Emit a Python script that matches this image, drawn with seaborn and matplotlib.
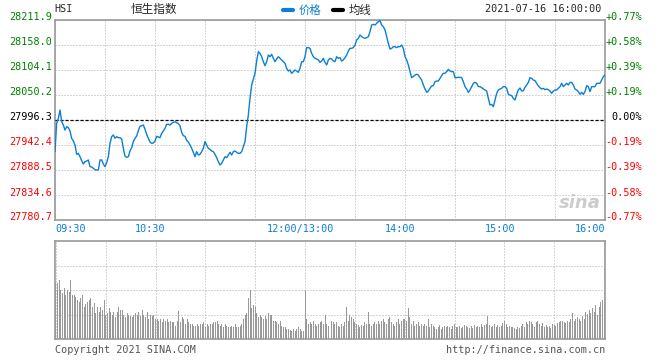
import numpy as np
import pandas as pd
import matplotlib
import matplotlib.pyplot as plt
import matplotlib.transforms as mtransforms
from matplotlib.lines import Line2D
import seaborn as sns

matplotlib.use('Agg')

# HSI intraday 2021-07-16, one value per minute (09:30-12:00 then 13:00-16:00)
prev_close = 27996.3
price = [
    27928.0, 27989.1, 27999.9, 28017.9, 27992.7, 27985.5, 27974.7, 27981.9, 27979.8, 27972.6,
    27956.8, 27951.0, 27942.4, 27922.3, 27924.4, 27917.2, 27908.6, 27901.4, 27906.5, 27907.9,
    27910.1, 27895.7, 27895.0, 27892.1, 27889.2, 27888.5, 27888.5, 27910.1, 27910.1, 27901.4,
    27895.7, 27904.3, 27917.2, 27946.0, 27960.4, 27964.0, 27956.8, 27960.4, 27958.2, 27958.2,
    27955.3, 27935.2, 27918.7, 27915.8, 27917.2, 27929.5, 27936.7, 27949.6, 27956.8, 27961.8,
    27973.3, 27982.6, 27984.1, 27985.5, 27976.2, 27965.4, 27956.8, 27948.9, 27946.0, 27946.7,
    27951.0, 27961.1, 27959.6, 27958.2, 27967.6, 27972.6, 27978.3, 27987.0, 27987.0, 27985.5,
    27989.1, 27991.3, 27992.7, 27990.6, 27988.4, 27984.1, 27969.7, 27962.5, 27961.1, 27952.5,
    27948.9, 27942.4, 27935.2, 27926.6, 27917.2, 27928.0, 27920.8, 27922.3, 27928.0, 27935.2,
    27949.6, 27942.4, 27935.2, 27933.1, 27929.5, 27928.0, 27922.3, 27915.1, 27906.5, 27899.3,
    27902.9, 27910.1, 27917.2, 27915.1, 27920.8, 27926.6, 27920.8, 27928.0, 27929.5, 27926.6,
    27924.4, 27924.4, 27928.0, 27938.8, 27949.6, 27981.9, 28007.1, 28043.0, 28071.8, 28084.7,
    28096.9, 28123.5, 28143.6, 28140.0, 28132.8, 28122.1, 28113.4, 28122.1, 28136.4, 28132.8,
    28137.9, 28129.3, 28122.1, 28127.8, 28132.8, 28129.3, 28125.7, 28122.1, 28118.5, 28107.7,
    28101.9, 28104.1, 28096.9, 28100.5, 28104.1, 28101.9, 28099.1, 28107.7, 28122.1, 28122.1,
    28132.8, 28152.3, 28152.3, 28150.8, 28140.0, 28132.8, 28129.3, 28127.8, 28125.7, 28120.6,
    28123.5, 28129.3, 28120.6, 28114.9, 28125.7, 28129.3, 28127.8, 28123.5, 28122.1, 28132.8,
    28129.3, 28130.7, 28123.5, 28125.7, 28130.7, 28136.4, 28145.1, 28150.8, 28150.8, 28152.3,
    28158.0, 28168.8, 28172.4, 28179.6, 28176.0, 28173.8, 28172.4, 28173.8, 28176.0, 28186.7,
    28201.1, 28202.6, 28201.1, 28204.7, 28208.3, 28210.5, 28201.1, 28197.5, 28190.3, 28176.0,
    28161.6, 28149.4, 28150.8, 28154.4, 28154.4, 28152.3, 28154.4, 28154.4, 28158.0, 28150.8,
    28132.8, 28125.7, 28114.9, 28100.5, 28087.6, 28089.7, 28093.3, 28094.8, 28093.3, 28087.6,
    28082.5, 28071.8, 28063.1, 28055.9, 28058.8, 28064.6, 28069.6, 28070.3, 28078.9, 28080.4,
    28080.4, 28086.1, 28091.9, 28096.9, 28096.9, 28100.5, 28105.5, 28101.9, 28100.5, 28100.5,
    28087.6, 28087.6, 28088.3, 28088.3, 28087.6, 28078.9, 28068.2, 28063.1, 28055.9, 28061.0,
    28068.2, 28075.4, 28077.5, 28075.4, 28068.2, 28068.2, 28066.0, 28063.1, 28061.0, 28058.8,
    28043.0, 28028.6, 28030.1, 28025.0, 28039.4, 28053.8, 28061.0, 28063.1, 28064.6, 28068.2,
    28068.2, 28064.6, 28051.6, 28050.2, 28048.8, 28043.0, 28039.4, 28051.6, 28061.0, 28065.3,
    28058.8, 28059.5, 28066.7, 28071.8, 28077.5, 28087.6, 28086.1, 28082.5, 28081.1, 28075.4,
    28069.6, 28066.0, 28063.1, 28064.6, 28061.7, 28063.1, 28061.7, 28058.8, 28053.8, 28058.8,
    28061.0, 28061.0, 28064.6, 28068.2, 28075.4, 28068.2, 28071.8, 28075.4, 28071.8, 28077.5,
    28077.5, 28071.8, 28063.1, 28061.0, 28057.4, 28051.6, 28056.0, 28051.6, 28057.4, 28070.3,
    28068.2, 28057.4, 28068.2, 28068.2, 28068.2, 28075.4, 28075.4, 28075.4, 28082.5, 28089.7,
    28093.3,
]

# volume per minute, as % of the lower panel height
volume = [
    57, 57, 60, 50, 47, 52, 45, 50, 48, 60,
    45, 45, 43, 40, 38, 42, 45, 33, 36, 38,
    40, 42, 33, 37, 27, 33, 28, 33, 30, 40,
    25, 27, 32, 28, 25, 28, 22, 28, 33, 30,
    30, 25, 22, 27, 25, 23, 22, 25, 27, 25,
    28, 23, 30, 25, 22, 28, 20, 25, 23, 25,
    20, 20, 18, 20, 17, 20, 18, 20, 17, 18,
    17, 17, 13, 18, 29, 17, 22, 20, 15, 20,
    17, 15, 15, 13, 13, 15, 13, 15, 15, 17,
    12, 15, 13, 15, 15, 17, 17, 18, 15, 13,
    15, 12, 15, 13, 12, 12, 13, 12, 15, 12,
    12, 13, 15, 20, 25, 27, 42, 50, 32, 35,
    33, 27, 22, 25, 22, 20, 23, 20, 27, 25,
    25, 18, 18, 17, 15, 18, 13, 12, 12, 10,
    10, 9, 8, 10, 8, 10, 12, 10, 8, 8,
    50, 20, 15, 17, 15, 18, 15, 13, 15, 17,
    18, 15, 25, 15, 13, 14, 18, 17, 15, 17,
    13, 12, 15, 13, 17, 33, 18, 25, 22, 20,
    17, 15, 14, 12, 14, 13, 17, 15, 28, 15,
    13, 15, 17, 15, 18, 15, 18, 20, 17, 15,
    20, 22, 17, 15, 13, 17, 20, 15, 18, 20,
    20, 18, 32, 22, 15, 18, 13, 15, 17, 13,
    15, 13, 15, 13, 20, 12, 15, 13, 12, 10,
    12, 14, 10, 12, 13, 12, 13, 12, 10, 13,
    15, 12, 12, 13, 11, 12, 14, 13, 12, 11,
    13, 11, 14, 12, 13, 12, 15, 12, 14, 15,
    23, 14, 12, 13, 15, 12, 14, 12, 13, 16,
    18, 15, 12, 13, 12, 12, 11, 10, 12, 11,
    13, 15, 12, 17, 15, 18, 17, 15, 12, 17,
    18, 15, 13, 16, 12, 14, 12, 13, 11, 15,
    14, 13, 16, 17, 18, 18, 17, 16, 18, 17,
    20, 27, 18, 20, 22, 20, 18, 23, 20, 28,
    26, 30, 27, 32, 28, 35, 25, 33, 38, 40, 38,
]

price_levels = [28211.9, 28158.0, 28104.1, 28050.2, 27996.3, 27942.4, 27888.5, 27834.6, 27780.7]
time_labels = ['09:30', '10:30', '12:00/13:00', '14:00', '15:00', '16:00']
time_label_minutes = [0, 60, 150, 210, 270, 330]

BLUE = '#0b7fd4'
GREEN = '#008000'
RED = '#ff0000'
GRID = '#aaaaaa'
FRAME = '#999999'
MONO = 'DejaVu Sans Mono'
CJK = ['Noto Sans CJK SC', 'DejaVu Sans']
FS = 7.3

sns.set_style('white')
plt.rcParams['font.family'] = CJK

df = pd.DataFrame({'minute': np.arange(len(price)), 'price': price, 'volume': volume})

fig = plt.figure(figsize=(6.6, 3.6), dpi=100)
W, H = 660, 360
ax = fig.add_axes([55 / W, 1 - 220 / H, 550 / W, 200 / H])
axv = fig.add_axes([55 / W, 1 - 339 / H, 550 / W, 98 / H])

grid_kw = dict(color=GRID, linewidth=0.72, linestyle=(0, (1, 2)))

# price panel
sns.lineplot(data=df, x='minute', y='price', ax=ax, color=BLUE, linewidth=1.0, zorder=5)
ax.set_xlim(0, 330)
ax.set_ylim(price_levels[-1], price_levels[0])
ax.set_xticks(range(0, 331, 30))
ax.set_yticks(price_levels)
ax.grid(True, **grid_kw)
ax.axhline(prev_close, color='black', linewidth=0.9, linestyle=(0, (2.5, 1.5)), zorder=4)
ax.tick_params(length=0, labelleft=False, labelbottom=False)
ax.set_xlabel('')
ax.set_ylabel('')
for s in ax.spines.values():
    s.set_color(FRAME)
    s.set_linewidth(1.2)

# axis labels (price on the left, change on the right)
up = mtransforms.ScaledTranslation(0, 2.5 / 100, fig.dpi_scale_trans)
left_off = mtransforms.ScaledTranslation(-3 / 100, 0, fig.dpi_scale_trans)
right_off = mtransforms.ScaledTranslation(37 / 100, 0, fig.dpi_scale_trans)
for lv in price_levels:
    col = GREEN if lv > prev_close else (RED if lv < prev_close else 'black')
    pct = (lv / prev_close - 1) * 100
    pct_txt = '0.00%' if abs(pct) < 0.005 else f'{pct:+.2f}%'
    ax.text(0, lv, f'{lv:.1f}', transform=ax.get_yaxis_transform() + left_off + up,
            ha='right', va='center', color=col, fontsize=FS, family=MONO)
    ax.text(1, lv, pct_txt, transform=ax.get_yaxis_transform() + right_off + up,
            ha='right', va='center', color=col, fontsize=FS, family=MONO)

down = mtransforms.ScaledTranslation(0, -8.5 / 100, fig.dpi_scale_trans)
for i, (m, lab) in enumerate(zip(time_label_minutes, time_labels)):
    if i == 0:
        ha, dx = 'left', 0
    elif i == len(time_labels) - 1:
        ha, dx = 'right', 0
    else:
        ha, dx = 'center', -5
    tr = ax.get_xaxis_transform() + down + mtransforms.ScaledTranslation(dx / 100, 0, fig.dpi_scale_trans)
    ax.text(m, 0, lab, transform=tr, ha=ha, va='center', color=BLUE, fontsize=FS, family=MONO)

# sina watermark
ax.text(0.955, 0.085, 'sina', transform=ax.transAxes, ha='center', va='center',
        fontsize=13, fontstyle='italic', fontweight='bold', color='#cccccc', family='DejaVu Sans', zorder=1)

# volume panel
sns.barplot(data=df, x='minute', y='volume', ax=axv, native_scale=True, color='#999999',
            saturation=1, width=0.6, linewidth=0, errorbar=None, zorder=3)
axv.set_xlim(-0.5, 330.5)
axv.set_ylim(0, 100)
axv.set_xticks(range(0, 331, 30))
axv.set_yticks([25, 50, 75])
axv.grid(True, **grid_kw)
axv.tick_params(length=0, labelleft=False, labelbottom=False)
axv.set_xlabel('')
axv.set_ylabel('')
for s in axv.spines.values():
    s.set_color(FRAME)
    s.set_linewidth(1.2)

# header
fig.text(54 / W, 1 - 9 / H, 'HSI', ha='left', va='center', fontsize=FS, family=MONO)
fig.text(131 / W, 1 - 9.5 / H, '恒生指数', ha='left', va='center', fontsize=8.4, family=CJK)
leg = [Line2D([0], [0], color=BLUE, linewidth=3), Line2D([0], [0], color='black', linewidth=3)]
lg = fig.legend(leg, ['价格', '均线'], loc='center left', bbox_to_anchor=(283 / W, 1 - 10 / H),
                ncol=2, frameon=False, handlelength=0.9, handletextpad=0.5, columnspacing=1.0,
                borderpad=0, borderaxespad=0, prop={'family': CJK, 'size': 8.2})
lg.get_texts()[0].set_color(BLUE)
fig.text(601 / W, 1 - 9 / H, '2021-07-16 16:00:00', ha='right', va='center', fontsize=FS, family=MONO)

# footer
fig.text(55 / W, 1 - 350 / H, 'Copyright 2021 SINA.COM', ha='left', va='center', fontsize=FS,
         family=MONO, color='#555555')
fig.text(605 / W, 1 - 350 / H, 'http://finance.sina.com.cn', ha='right', va='center', fontsize=FS,
         family=MONO, color='#555555')

plt.savefig('out.png', dpi=100)
